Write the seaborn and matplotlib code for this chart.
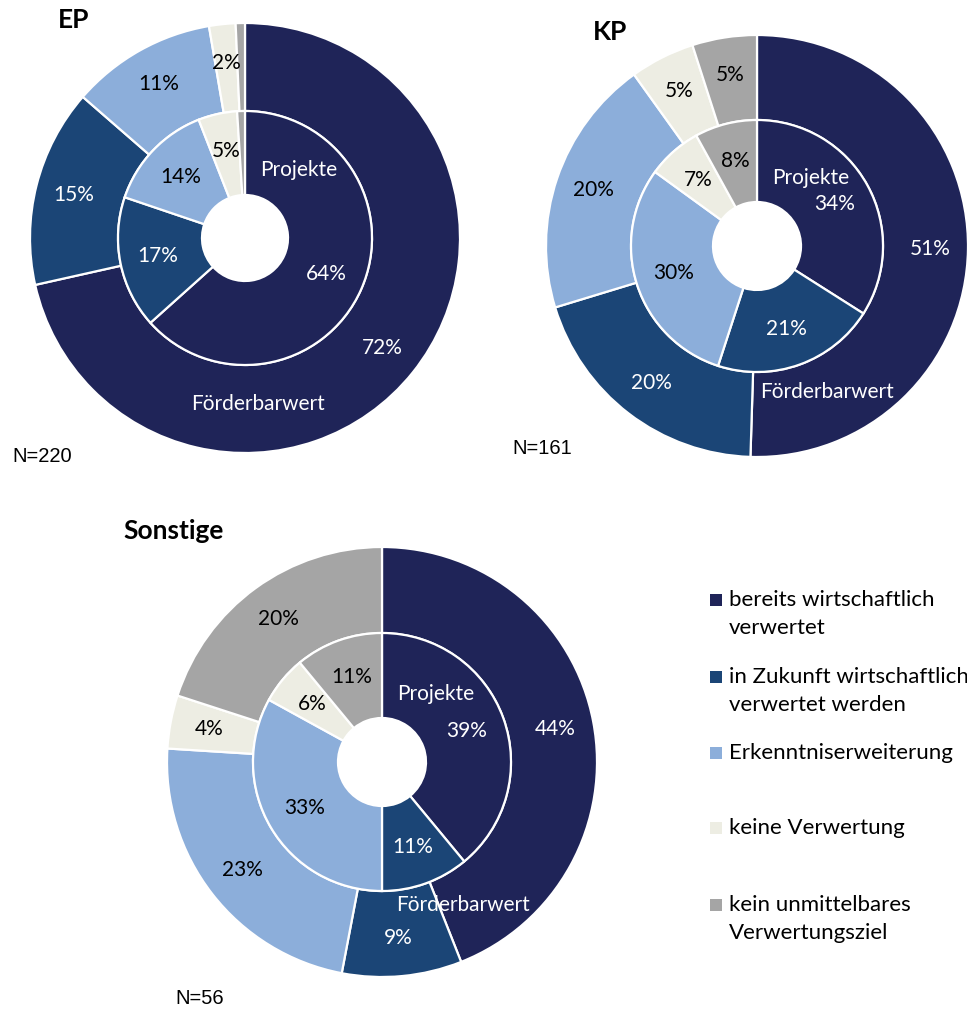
import numpy as np
import matplotlib.pyplot as plt
import seaborn as sns

# categories / colours
categories = ["bereits wirtschaftlich\nverwertet",
              "in Zukunft wirtschaftlich\nverwertet werden",
              "Erkenntniserweiterung",
              "keine Verwertung",
              "kein unmittelbares\nVerwertungsziel"]
palette = ["#1F2458", "#1B4576", "#8CAEDA", "#EDEDE3", "#A5A5A5"]
text_colors = ["white", "white", "black", "black", "black"]

chart_names = ["EP", "KP", "Sonstige"]
n_values = [220, 161, 56]

# inner ring: Projekte, outer ring: Förderbarwert (in %)
projekte_ep = [64, 17, 14, 5, 1]
foerder_ep = [72, 15, 11, 2, 0.7]
projekte_kp = [34, 21, 30, 7, 8]
foerder_kp = [51, 20, 20, 5, 5]
projekte_sonst = [39, 11, 33, 6, 11]
foerder_sonst = [44, 9, 23, 4, 20]

inner_data = [projekte_ep, projekte_kp, projekte_sonst]
outer_data = [foerder_ep, foerder_kp, foerder_sonst]

W, H = 967, 1009

sns.set_theme(style="white")
plt.rcParams['font.family'] = ['Lato', 'DejaVu Sans']

fig = plt.figure(figsize=(W / 100, H / 100), dpi=100)
ax = fig.add_axes([0, 0, 1, 1])

# layout in pixels (y measured from top)
layout = [
    dict(cx=245, cy=238, r_out=215, r_mid=127, r_hole=43,
         title_xy=(58, 20), n_xy=(12, 456), foerder_off=(13, 166)),
    dict(cx=757, cy=246, r_out=211, r_mid=126, r_hole=44,
         title_xy=(593, 32), n_xy=(512, 449), foerder_off=(70, 146)),
    dict(cx=382, cy=762, r_out=215, r_mid=129, r_hole=44,
         title_xy=(123, 531), n_xy=(175, 999), foerder_off=(81, 143)),
]


def add_labels(wedges, values, cx, cy, r_lab):
    for w, v, tc in zip(wedges, values, text_colors):
        if v < 1.5:
            continue
        ang = np.deg2rad((w.theta1 + w.theta2) / 2)
        ax.text(cx + r_lab * np.cos(ang), cy + r_lab * np.sin(ang), f"{v:.0f}%",
                ha='center', va='center', fontsize=15, color=tc)


for name, n, inner, outer, lo in zip(chart_names, n_values, inner_data, outer_data, layout):
    cx, cy = lo['cx'], H - lo['cy']
    wo, _ = ax.pie(outer, radius=lo['r_out'], center=(cx, cy), startangle=90,
                   counterclock=False, colors=palette, normalize=True,
                   wedgeprops=dict(width=lo['r_out'] - lo['r_mid'], edgecolor='white', linewidth=1.6))
    wi, _ = ax.pie(inner, radius=lo['r_mid'], center=(cx, cy), startangle=90,
                   counterclock=False, colors=palette, normalize=True,
                   wedgeprops=dict(width=lo['r_mid'] - lo['r_hole'], edgecolor='white', linewidth=1.6))
    add_labels(wo, outer, cx, cy, 0.82 * lo['r_out'])
    add_labels(wi, inner, cx, cy, 0.70 * lo['r_mid'])

    ax.text(cx + 54, cy + 68, "Projekte", ha='center', va='center', fontsize=15, color='white')
    fx, fy = lo['foerder_off']
    ax.text(cx + fx, cy - fy, "Förderbarwert", ha='center', va='center', fontsize=15, color='white')

    tx, ty = lo['title_xy']
    ax.text(tx, H - ty, name, ha='left', va='center', fontsize=19, fontweight='bold', color='black')
    nx, ny = lo['n_xy']
    ax.text(nx, H - ny, f"N={n}", ha='left', va='center', fontsize=14.5,
            family='Liberation Sans', color='black')

# legend
legend_y = [600, 677, 753, 828, 905]
for cat, col, ly in zip(categories, palette, legend_y):
    ax.scatter([716], [H - ly], marker='s', s=80, color=col, edgecolors='none')
    for i, line in enumerate(cat.split("\n")):
        ax.text(729, H - ly - 28 * i, line, ha='left', va='center', fontsize=16,
                color='black')

ax.set_xlim(0, W)
ax.set_ylim(0, H)
ax.set_aspect('equal')
ax.axis('off')

fig.savefig("out.png", dpi=100, facecolor='white')
